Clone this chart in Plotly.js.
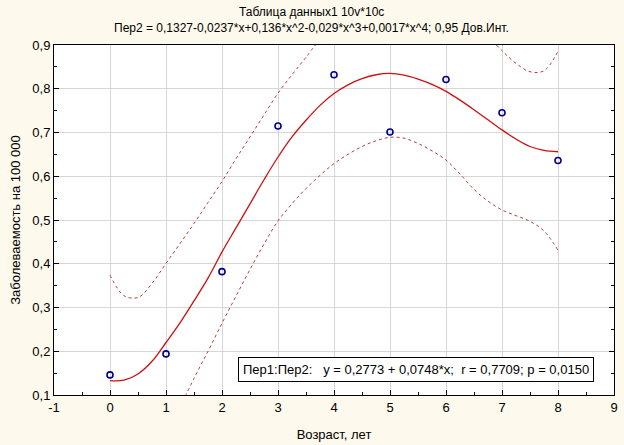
<!DOCTYPE html>
<html>
<head>
<meta charset="utf-8">
<script src="https://cdn.plot.ly/plotly-3.0.1.min.js"></script>
<style>
  html, body { margin: 0; padding: 0; background: #fdf9ec; }
  #chart { width: 624px; height: 445px; }
</style>
</head>
<body>
<div id="chart"></div>
<script>
// observed points: age (years) vs incidence per 100 000
var ageYears = [0, 1, 2, 3, 4, 5, 6, 7, 8];
var incidence = [0.146, 0.194, 0.382, 0.715, 0.832, 0.701, 0.821, 0.745, 0.636];

// polynomial fit (Пер2), every 0.25
var fitX = [0, 0.25, 0.5, 0.75, 1, 1.25, 1.5, 1.75, 2, 2.25, 2.5, 2.75, 3, 3.25, 3.5, 3.75, 4,
            4.25, 4.5, 4.75, 5, 5.25, 5.5, 5.75, 6, 6.25, 6.5, 6.75, 7, 7.25, 7.5, 7.75, 8];
var fitY = [0.133, 0.134, 0.148, 0.177, 0.220, 0.265, 0.315, 0.367, 0.427, 0.482, 0.537, 0.592, 0.644, 0.690, 0.728, 0.762, 0.789,
            0.809, 0.823, 0.832, 0.835, 0.831, 0.822, 0.810, 0.794, 0.774, 0.752, 0.729, 0.706, 0.685, 0.668, 0.659, 0.656];

// 0,95 confidence band: upper (leaves the plot at the top twice) and lower
var upperX = [0, 0.25, 0.5, 0.75, 1, 1.25, 1.5, 1.75, 2, 2.25, 2.5, 2.75, 3, 3.25, 3.5, 3.75,
              null, 6.75, 7, 7.25, 7.5, 7.75, 8];
var upperY = [0.374, 0.327, 0.323, 0.355, 0.401, 0.446, 0.492, 0.540, 0.588, 0.640, 0.690, 0.740, 0.790, 0.832, 0.872, 0.914,
              null, 0.920, 0.887, 0.858, 0.839, 0.841, 0.886];
var lowerX = [1.25, 1.5, 1.75, 2, 2.25, 2.5, 2.75, 3, 3.25, 3.5, 3.75, 4, 4.25, 4.5, 4.75, 5,
              5.25, 5.5, 5.75, 6, 6.25, 6.5, 6.75, 7, 7.25, 7.5, 7.75, 8];
var lowerY = [0.072, 0.138, 0.200, 0.264, 0.326, 0.387, 0.445, 0.498, 0.537, 0.572, 0.602, 0.629, 0.650, 0.668, 0.681, 0.689,
              0.687, 0.675, 0.658, 0.637, 0.605, 0.570, 0.543, 0.523, 0.510, 0.497, 0.475, 0.431];

var xTicks = [-1, 0, 1, 2, 3, 4, 5, 6, 7, 8, 9];
var xTickText = ['-1', '0', '1', '2', '3', '4', '5', '6', '7', '8', '9'];

var font = 'Liberation Sans, Arial, sans-serif';
var bandLine = {color: '#b83c3c', width: 1, dash: '3px,3px', shape: 'spline'};

var traces = [
    {x: upperX, y: upperY, mode: 'lines', line: bandLine, connectgaps: false},
    {x: lowerX, y: lowerY, mode: 'lines', line: bandLine},
    {x: fitX, y: fitY, mode: 'lines', line: {color: '#cc1010', width: 1.3, shape: 'spline'}},
    {x: ageYears, y: incidence, mode: 'markers',
     marker: {symbol: 'circle-open', size: 6, color: '#00008b', line: {width: 1.6, color: '#00008b'}}}
];

var axisCommon = {
    showline: true, linecolor: '#000', linewidth: 1,
    showgrid: true, gridcolor: '#d6d6d6', gridwidth: 1,
    zeroline: false,
    ticks: 'inside', ticklen: 5, tickcolor: '#000',
    tickfont: {family: font, size: 13, color: '#000'}
};

var layout = {
    width: 624, height: 445,
    paper_bgcolor: '#fdf9ec',
    plot_bgcolor: '#ffffff',
    separators: ', ',
    showlegend: false,
    margin: {l: 54, r: 10, t: 45, b: 50},
    font: {family: font, color: '#000'},
    xaxis: Object.assign({}, axisCommon, {
        range: [-1, 9], tickvals: xTicks, ticktext: xTickText, mirror: true,
        minor: {ticks: 'inside', ticklen: 3, dtick: 0.5, tickcolor: '#000', showgrid: false},
        title: {text: 'Возраст, лет', font: {family: font, size: 13, color: '#000'}, standoff: 16}
    }),
    yaxis: Object.assign({}, axisCommon, {
        range: [0.1, 0.9], dtick: 0.1, tickformat: '.1f', mirror: 'ticks',
        minor: {ticks: 'inside', ticklen: 3, dtick: 0.05, tickcolor: '#000', showgrid: false},
        title: {text: 'Заболеваемость на 100 000', font: {family: font, size: 13, color: '#000'}, standoff: 8}
    }),
    annotations: [
        {
            xref: 'paper', yref: 'paper', x: 0.459, y: 1.094, xanchor: 'center', yanchor: 'middle',
            showarrow: false, text: 'Таблица данных1 10v*10c',
            font: {family: font, size: 12, color: '#000'}
        },
        {
            xref: 'paper', yref: 'paper', x: 0.459, y: 1.049, xanchor: 'center', yanchor: 'middle',
            showarrow: false,
            text: 'Пер2 = 0,1327-0,0237*x+0,136*x^2-0,029*x^3+0,0017*x^4; 0,95 Дов.Инт.',
            font: {family: font, size: 12, color: '#000'}
        },
        {
            xref: 'paper', yref: 'paper', x: 0.964, y: 0.074,
            xanchor: 'right', yanchor: 'middle', showarrow: false,
            text: 'Пер1:Пер2:   y = 0,2773 + 0,0748*x;  r = 0,7709; p = 0,0150',
            font: {family: font, size: 13, color: '#000'},
            bgcolor: '#ffffff', bordercolor: '#000', borderwidth: 1, borderpad: 4
        }
    ]
};

Plotly.newPlot('chart', traces, layout, {displayModeBar: false, staticPlot: true});
</script>
</body>
</html>
